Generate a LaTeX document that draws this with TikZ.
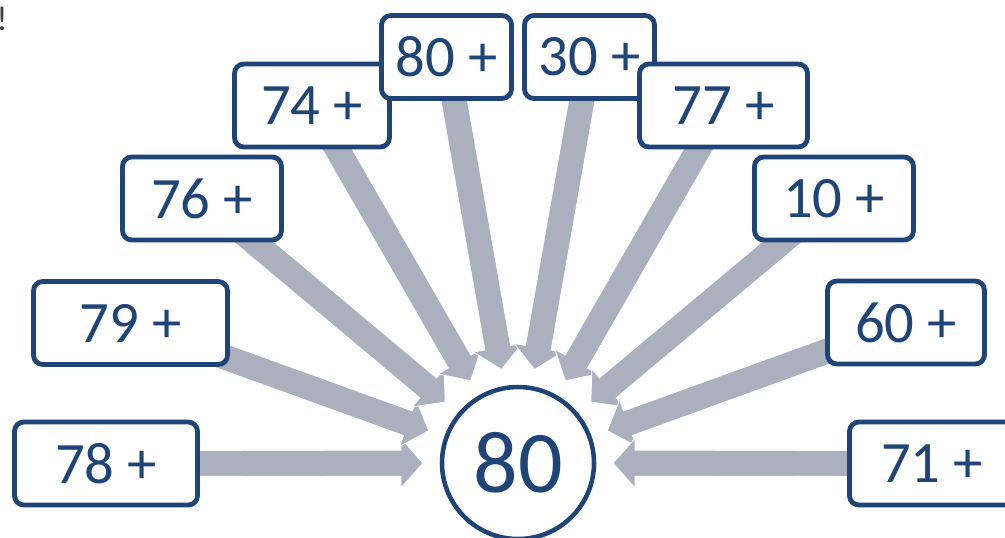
\documentclass[tikz,border=0pt]{standalone}
\usepackage{fontspec}
\setmainfont{Carlito}
\usetikzlibrary{calc}
\definecolor{navy}{RGB}{31,69,120}
\definecolor{arrowgray}{RGB}{171,176,190}
\pgfdeclarelayer{bg}
\pgfsetlayers{bg,main}
\tikzset{
  numbox/.style={draw=navy, line width=3.6pt, rounded corners=7pt, fill=white,
    text=navy, font=\fontsize{44}{44}\selectfont, minimum height=62.25pt, inner sep=0pt},
  target/.style={circle, draw=navy, line width=3.4pt, fill=white, text=navy,
    font=\fontsize{66}{66}\selectfont, minimum size=114pt, inner sep=0pt},
  fatarrow/.style={fill=arrowgray, draw=white, line width=0.6pt, line join=miter},
}
\newcommand\fatarrow[2]{%
  \coordinate (T) at ($(#2.center)!71.25pt!(#1.center)$);
  \coordinate (B) at ($(T)!16.5pt!(#1.center)$);
  \path[fatarrow] ($(#1.center)!9.75pt!90:(T)$) -- ($(B)!9.75pt!90:(T)$)
    -- ($(B)!18.5pt!90:(T)$) -- (T) -- ($(B)!18.5pt!-90:(T)$)
    -- ($(B)!9.75pt!-90:(T)$) -- ($(#1.center)!9.75pt!-90:(T)$) -- cycle;
}
\begin{document}
\begin{tikzpicture}[x=0.75pt,y=-0.75pt]
\useasboundingbox (0,0) rectangle (1005,537);
\node[anchor=base west, inner sep=0pt, font=\fontsize{26}{26}\selectfont, text=darkgray] (excl) at (-4,30) {!};
\node[target] (c) at (518,463) {80};
\node[numbox, minimum width=137.25pt] (b78) at (106,463.5) {78 +};
\node[numbox, minimum width=145.5pt] (b79) at (130.5,323) {79 +};
\node[numbox, minimum width=119.25pt] (b76) at (202,198.5) {76 +};
\node[numbox, minimum width=116.25pt] (b74) at (312,105.5) {74 +};
\node[numbox, minimum width=97.5pt] (b80) at (446.5,57) {80 +};
\node[numbox, minimum width=97.5pt] (b30) at (589.5,57) {30 +};
\node[numbox, minimum width=126pt] (b77) at (723.5,105.5) {77 +};
\node[numbox, minimum width=119.25pt] (b10) at (834,198.5) {10 +};
\node[numbox, minimum width=117.75pt] (b60) at (906,322.5) {60 +};
\node[numbox, minimum width=123.75pt] (b71) at (932,463.5) {71 +};
\begin{pgfonlayer}{bg}
\fatarrow{b78}{c}
\fatarrow{b79}{c}
\fatarrow{b76}{c}
\fatarrow{b74}{c}
\fatarrow{b80}{c}
\fatarrow{b30}{c}
\fatarrow{b77}{c}
\fatarrow{b10}{c}
\fatarrow{b60}{c}
\fatarrow{b71}{c}
\end{pgfonlayer}
\end{tikzpicture}
\end{document}
